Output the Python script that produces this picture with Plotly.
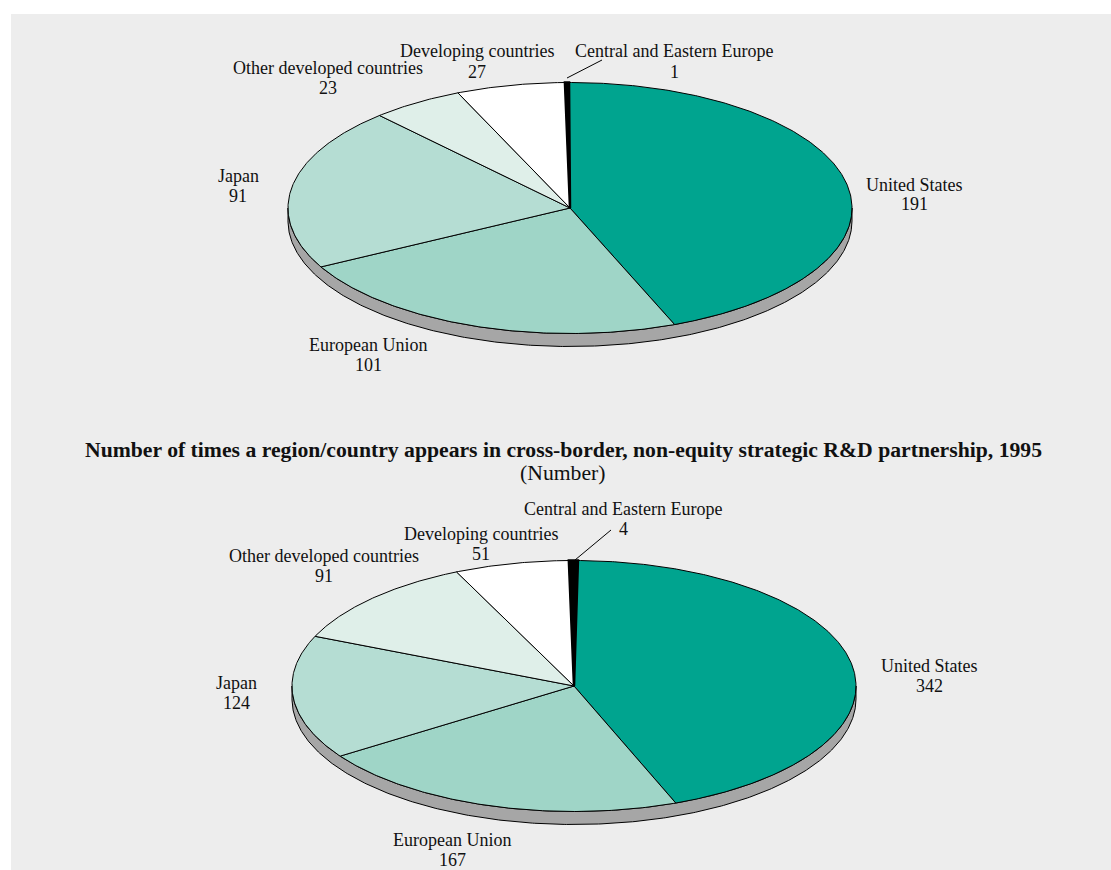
import math
import plotly.graph_objects as go

WIDTH, HEIGHT = 1111, 870

# Partnership counts by region, clockwise from twelve o'clock
categories = [
    "United States",
    "European Union",
    "Japan",
    "Other developed countries",
    "Developing countries",
    "Central and Eastern Europe",
]
upper_values = [191, 101, 91, 23, 27, 1]
lower_values = [342, 167, 124, 91, 51, 4]
slice_colors = ["#00A48F", "#9FD5C7", "#B5DDD3", "#DFEFE9", "#FFFFFF", "#000000"]
slice_line_widths = [1, 1, 1, 1, 1, 2.5]

title_line = "Number of times a region/country appears in cross-border, non-equity strategic R&D partnership, 1995"
subtitle_line = "(Number)"

PANEL_COLOR = "#EDEDED"
WALL_COLOR = "#A6A6A6"
TEXT_COLOR = "#111111"
SERIF = "Liberation Serif"

# Disc geometry, in the pixel units of the shared axes
RX, RY, DEPTH = 282, 125.5, 13

# Label anchors: x centre, first line y, second line y, same order as categories
upper_labels = [
    (914, 185, 204), (368, 345, 365), (238, 176, 196),
    (328, 68, 88), (477, 51, 72), (674, 51, 72),
]
lower_labels = [
    (929, 666, 686), (452, 840, 860), (236, 683, 703),
    (324, 556, 576), (481, 534, 554), (623, 509, 529),
]


def rim(cx, cy, deg):
    a = math.radians(deg)
    return cx + RX * math.sin(a), cy - RY * math.cos(a)


def arc(cx, cy, start, end, step=0.5):
    n = max(2, int(abs(end - start) / step) + 1)
    return [rim(cx, cy, start + (end - start) * i / (n - 1)) for i in range(n)]


def add_pie(fig, values, cx, cy, rotation):
    # Side wall: the front half of the rim, and the same half pushed down
    front = arc(cx, cy, 90, 270)
    lower = [(x, y + DEPTH) for x, y in front]
    outline = lower + front[::-1] + [lower[0]]
    fig.add_trace(go.Scatter(
        x=[p[0] for p in outline], y=[p[1] for p in outline],
        mode="lines", fill="toself", fillcolor=WALL_COLOR,
        line=dict(color="#000000", width=1), hoverinfo="skip",
    ))

    total = sum(values)
    start = rotation
    for value, color, width in zip(values, slice_colors, slice_line_widths):
        end = start + value / total * 360
        pts = [(cx, cy)] + arc(cx, cy, start, end) + [(cx, cy)]
        fig.add_trace(go.Scatter(
            x=[p[0] for p in pts], y=[p[1] for p in pts],
            mode="lines", fill="toself", fillcolor=color,
            line=dict(color="#000000", width=width), hoverinfo="skip",
        ))
        start = end


def text_note(x, y, text, size=18, bold=False):
    return dict(
        x=x, y=y, xref="x", yref="y", text=f"<b>{text}</b>" if bold else text,
        showarrow=False, xanchor="center", yanchor="middle",
        font=dict(family=SERIF, size=size, color=TEXT_COLOR),
    )


def label_notes(labels, values):
    notes = []
    for name, value, (x, y1, y2) in zip(categories, values, labels):
        notes.append(text_note(x, y1, name))
        notes.append(text_note(x, y2, str(value)))
    return notes


def leader(x0, y0, x1, y1):
    return dict(
        type="line", xref="x", yref="y", x0=x0, y0=y0, x1=x1, y1=y1,
        line=dict(color="#000000", width=1),
    )


fig = go.Figure()
add_pie(fig, upper_values, 570, 208, -0.2)
add_pie(fig, lower_values, 574, 686, 0.8)

annotations = label_notes(upper_labels, upper_values) + label_notes(lower_labels, lower_values)
annotations.append(text_note(563, 450, title_line, size=21.7, bold=True))
annotations.append(text_note(563, 473, subtitle_line, size=21.7))

fig.update_layout(
    width=WIDTH, height=HEIGHT, autosize=False,
    margin=dict(l=0, r=0, t=0, b=0),
    paper_bgcolor="#FFFFFF", plot_bgcolor="rgba(0,0,0,0)",
    showlegend=False,
    xaxis=dict(range=[0, WIDTH], visible=False, fixedrange=True),
    yaxis=dict(range=[HEIGHT, 0], visible=False, fixedrange=True),
    shapes=[
        dict(type="rect", xref="x", yref="y", x0=11, y0=14, x1=WIDTH, y1=HEIGHT,
             fillcolor=PANEL_COLOR, line=dict(width=0), layer="below"),
        leader(567, 78, 602, 60),
        leader(575, 560, 611, 530),
    ],
    annotations=annotations,
)

fig.write_html("out.html", config=dict(displayModeBar=False))
